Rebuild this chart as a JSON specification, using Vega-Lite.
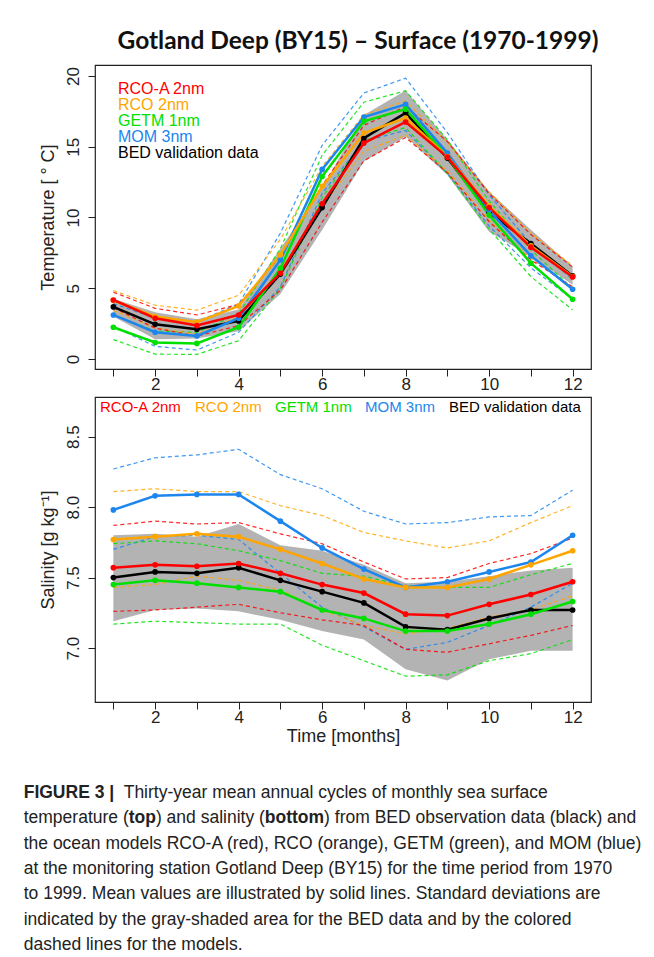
{
  "$schema": "https://vega.github.io/schema/vega-lite/v6.json",
  "background": "white",
  "padding": {"left": 23, "top": 28, "right": 0, "bottom": 0},
  "title": {"text": "Gotland Deep (BY15) – Surface (1970-1999)", "font": "Lato", "fontSize": 24.5, "fontWeight": "bold", "color": "#111111", "anchor": "middle", "offset": 10, "dx": 25},
  "spacing": 3,
  "resolve": {"legend": {"color": "independent"}},
  "datasets": {
    "temp": [
      {"model": "BED validation data", "month": 1, "mean": 3.68, "lo": 3.0, "hi": 4.25},
      {"model": "BED validation data", "month": 2, "mean": 2.45, "lo": 1.4, "hi": 3.3},
      {"model": "BED validation data", "month": 3, "mean": 2.1, "lo": 1.45, "hi": 2.8},
      {"model": "BED validation data", "month": 4, "mean": 2.69, "lo": 1.95, "hi": 3.5},
      {"model": "BED validation data", "month": 5, "mean": 6.0, "lo": 4.6, "hi": 7.8},
      {"model": "BED validation data", "month": 6, "mean": 10.7, "lo": 9.12, "hi": 12.1},
      {"model": "BED validation data", "month": 7, "mean": 15.6, "lo": 13.95, "hi": 17.25},
      {"model": "BED validation data", "month": 8, "mean": 17.4, "lo": 15.72, "hi": 18.97},
      {"model": "BED validation data", "month": 9, "mean": 14.2, "lo": 13.0, "hi": 15.5},
      {"model": "BED validation data", "month": 10, "mean": 10.35, "lo": 9.0, "hi": 11.84},
      {"model": "BED validation data", "month": 11, "mean": 8.16, "lo": 7.24, "hi": 9.13},
      {"model": "BED validation data", "month": 12, "mean": 5.87, "lo": 5.24, "hi": 6.53},
      {"model": "MOM 3nm", "month": 1, "mean": 3.11, "lo": 2.31, "hi": 3.91},
      {"model": "MOM 3nm", "month": 2, "mean": 1.89, "lo": 0.89, "hi": 2.89},
      {"model": "MOM 3nm", "month": 3, "mean": 1.63, "lo": 0.63, "hi": 2.63},
      {"model": "MOM 3nm", "month": 4, "mean": 2.88, "lo": 1.88, "hi": 3.88},
      {"model": "MOM 3nm", "month": 5, "mean": 7.0, "lo": 5.1, "hi": 8.9},
      {"model": "MOM 3nm", "month": 6, "mean": 13.4, "lo": 11.7, "hi": 15.1},
      {"model": "MOM 3nm", "month": 7, "mean": 17.1, "lo": 15.4, "hi": 18.8},
      {"model": "MOM 3nm", "month": 8, "mean": 18.0, "lo": 16.15, "hi": 19.85},
      {"model": "MOM 3nm", "month": 9, "mean": 14.55, "lo": 13.1, "hi": 16.0},
      {"model": "MOM 3nm", "month": 10, "mean": 10.5, "lo": 9.4, "hi": 11.6},
      {"model": "MOM 3nm", "month": 11, "mean": 7.29, "lo": 6.44, "hi": 8.14},
      {"model": "MOM 3nm", "month": 12, "mean": 4.93, "lo": 4.23, "hi": 5.63},
      {"model": "GETM 1nm", "month": 1, "mean": 2.24, "lo": 1.37, "hi": 3.11},
      {"model": "GETM 1nm", "month": 2, "mean": 1.16, "lo": 0.34, "hi": 1.98},
      {"model": "GETM 1nm", "month": 3, "mean": 1.1, "lo": 0.32, "hi": 1.88},
      {"model": "GETM 1nm", "month": 4, "mean": 2.24, "lo": 1.29, "hi": 3.19},
      {"model": "GETM 1nm", "month": 5, "mean": 6.4, "lo": 5.0, "hi": 7.8},
      {"model": "GETM 1nm", "month": 6, "mean": 12.9, "lo": 11.4, "hi": 14.4},
      {"model": "GETM 1nm", "month": 7, "mean": 16.8, "lo": 15.45, "hi": 18.15},
      {"model": "GETM 1nm", "month": 8, "mean": 17.66, "lo": 16.36, "hi": 18.96},
      {"model": "GETM 1nm", "month": 9, "mean": 14.3, "lo": 13.1, "hi": 15.5},
      {"model": "GETM 1nm", "month": 10, "mean": 10.17, "lo": 9.17, "hi": 11.17},
      {"model": "GETM 1nm", "month": 11, "mean": 6.77, "lo": 5.82, "hi": 7.72},
      {"model": "GETM 1nm", "month": 12, "mean": 4.22, "lo": 3.47, "hi": 4.97},
      {"model": "RCO 2nm", "month": 1, "mean": 4.13, "lo": 3.43, "hi": 4.83},
      {"model": "RCO 2nm", "month": 2, "mean": 3.0, "lo": 2.2, "hi": 3.8},
      {"model": "RCO 2nm", "month": 3, "mean": 2.6, "lo": 1.75, "hi": 3.45},
      {"model": "RCO 2nm", "month": 4, "mean": 3.75, "lo": 3.0, "hi": 4.5},
      {"model": "RCO 2nm", "month": 5, "mean": 7.36, "lo": 6.26, "hi": 8.46},
      {"model": "RCO 2nm", "month": 6, "mean": 12.2, "lo": 10.8, "hi": 13.6},
      {"model": "RCO 2nm", "month": 7, "mean": 15.97, "lo": 14.67, "hi": 17.27},
      {"model": "RCO 2nm", "month": 8, "mean": 17.03, "lo": 15.83, "hi": 18.23},
      {"model": "RCO 2nm", "month": 9, "mean": 14.3, "lo": 13.3, "hi": 15.3},
      {"model": "RCO 2nm", "month": 10, "mean": 10.8, "lo": 9.8, "hi": 11.8},
      {"model": "RCO 2nm", "month": 11, "mean": 8.0, "lo": 7.1, "hi": 8.9},
      {"model": "RCO 2nm", "month": 12, "mean": 5.83, "lo": 5.08, "hi": 6.58},
      {"model": "RCO-A 2nm", "month": 1, "mean": 4.17, "lo": 3.62, "hi": 4.72},
      {"model": "RCO-A 2nm", "month": 2, "mean": 2.88, "lo": 2.18, "hi": 3.58},
      {"model": "RCO-A 2nm", "month": 3, "mean": 2.36, "lo": 1.61, "hi": 3.11},
      {"model": "RCO-A 2nm", "month": 4, "mean": 3.11, "lo": 2.36, "hi": 3.86},
      {"model": "RCO-A 2nm", "month": 5, "mean": 6.06, "lo": 4.86, "hi": 7.26},
      {"model": "RCO-A 2nm", "month": 6, "mean": 10.97, "lo": 9.67, "hi": 12.27},
      {"model": "RCO-A 2nm", "month": 7, "mean": 15.26, "lo": 14.01, "hi": 16.51},
      {"model": "RCO-A 2nm", "month": 8, "mean": 16.75, "lo": 15.65, "hi": 17.85},
      {"model": "RCO-A 2nm", "month": 9, "mean": 14.27, "lo": 13.17, "hi": 15.37},
      {"model": "RCO-A 2nm", "month": 10, "mean": 10.7, "lo": 9.7, "hi": 11.7},
      {"model": "RCO-A 2nm", "month": 11, "mean": 7.9, "lo": 7.0, "hi": 8.8},
      {"model": "RCO-A 2nm", "month": 12, "mean": 5.8, "lo": 5.1, "hi": 6.5}
    ],
    "sal": [
      {"model": "BED validation data", "month": 1, "mean": 7.50, "lo": 7.19, "hi": 7.80},
      {"model": "BED validation data", "month": 2, "mean": 7.54, "lo": 7.27, "hi": 7.81},
      {"model": "BED validation data", "month": 3, "mean": 7.53, "lo": 7.28, "hi": 7.79},
      {"model": "BED validation data", "month": 4, "mean": 7.57, "lo": 7.26, "hi": 7.88},
      {"model": "BED validation data", "month": 5, "mean": 7.48, "lo": 7.20, "hi": 7.73},
      {"model": "BED validation data", "month": 6, "mean": 7.40, "lo": 7.12, "hi": 7.69},
      {"model": "BED validation data", "month": 7, "mean": 7.32, "lo": 7.06, "hi": 7.59},
      {"model": "BED validation data", "month": 8, "mean": 7.15, "lo": 6.85, "hi": 7.46},
      {"model": "BED validation data", "month": 9, "mean": 7.13, "lo": 6.77, "hi": 7.47},
      {"model": "BED validation data", "month": 10, "mean": 7.21, "lo": 6.92, "hi": 7.51},
      {"model": "BED validation data", "month": 11, "mean": 7.27, "lo": 6.98, "hi": 7.55},
      {"model": "BED validation data", "month": 12, "mean": 7.27, "lo": 6.98, "hi": 7.57},
      {"model": "MOM 3nm", "month": 1, "mean": 7.98, "lo": 7.70, "hi": 8.27},
      {"model": "MOM 3nm", "month": 2, "mean": 8.08, "lo": 7.79, "hi": 8.35},
      {"model": "MOM 3nm", "month": 3, "mean": 8.09, "lo": 7.80, "hi": 8.37},
      {"model": "MOM 3nm", "month": 4, "mean": 8.09, "lo": 7.77, "hi": 8.41},
      {"model": "MOM 3nm", "month": 5, "mean": 7.90, "lo": 7.53, "hi": 8.23},
      {"model": "MOM 3nm", "month": 6, "mean": 7.71, "lo": 7.29, "hi": 8.13},
      {"model": "MOM 3nm", "month": 7, "mean": 7.56, "lo": 7.15, "hi": 7.97},
      {"model": "MOM 3nm", "month": 8, "mean": 7.43, "lo": 6.99, "hi": 7.88},
      {"model": "MOM 3nm", "month": 9, "mean": 7.47, "lo": 7.04, "hi": 7.89},
      {"model": "MOM 3nm", "month": 10, "mean": 7.54, "lo": 7.16, "hi": 7.93},
      {"model": "MOM 3nm", "month": 11, "mean": 7.61, "lo": 7.29, "hi": 7.94},
      {"model": "MOM 3nm", "month": 12, "mean": 7.80, "lo": 7.46, "hi": 8.12},
      {"model": "GETM 1nm", "month": 1, "mean": 7.45, "lo": 7.17, "hi": 7.74},
      {"model": "GETM 1nm", "month": 2, "mean": 7.48, "lo": 7.19, "hi": 7.76},
      {"model": "GETM 1nm", "month": 3, "mean": 7.46, "lo": 7.18, "hi": 7.74},
      {"model": "GETM 1nm", "month": 4, "mean": 7.43, "lo": 7.17, "hi": 7.69},
      {"model": "GETM 1nm", "month": 5, "mean": 7.40, "lo": 7.17, "hi": 7.62},
      {"model": "GETM 1nm", "month": 6, "mean": 7.27, "lo": 7.02, "hi": 7.53},
      {"model": "GETM 1nm", "month": 7, "mean": 7.21, "lo": 6.91, "hi": 7.51},
      {"model": "GETM 1nm", "month": 8, "mean": 7.12, "lo": 6.80, "hi": 7.44},
      {"model": "GETM 1nm", "month": 9, "mean": 7.12, "lo": 6.81, "hi": 7.43},
      {"model": "GETM 1nm", "month": 10, "mean": 7.17, "lo": 6.91, "hi": 7.43},
      {"model": "GETM 1nm", "month": 11, "mean": 7.24, "lo": 6.96, "hi": 7.52},
      {"model": "GETM 1nm", "month": 12, "mean": 7.33, "lo": 7.06, "hi": 7.60},
      {"model": "RCO 2nm", "month": 1, "mean": 7.77, "lo": 7.43, "hi": 8.11},
      {"model": "RCO 2nm", "month": 2, "mean": 7.79, "lo": 7.45, "hi": 8.13},
      {"model": "RCO 2nm", "month": 3, "mean": 7.81, "lo": 7.51, "hi": 8.11},
      {"model": "RCO 2nm", "month": 4, "mean": 7.79, "lo": 7.48, "hi": 8.11},
      {"model": "RCO 2nm", "month": 5, "mean": 7.70, "lo": 7.41, "hi": 8.01},
      {"model": "RCO 2nm", "month": 6, "mean": 7.60, "lo": 7.27, "hi": 7.94},
      {"model": "RCO 2nm", "month": 7, "mean": 7.49, "lo": 7.16, "hi": 7.82},
      {"model": "RCO 2nm", "month": 8, "mean": 7.43, "lo": 7.10, "hi": 7.76},
      {"model": "RCO 2nm", "month": 9, "mean": 7.43, "lo": 7.14, "hi": 7.71},
      {"model": "RCO 2nm", "month": 10, "mean": 7.49, "lo": 7.22, "hi": 7.76},
      {"model": "RCO 2nm", "month": 11, "mean": 7.59, "lo": 7.27, "hi": 7.89},
      {"model": "RCO 2nm", "month": 12, "mean": 7.69, "lo": 7.37, "hi": 8.01},
      {"model": "RCO-A 2nm", "month": 1, "mean": 7.57, "lo": 7.26, "hi": 7.87},
      {"model": "RCO-A 2nm", "month": 2, "mean": 7.59, "lo": 7.27, "hi": 7.90},
      {"model": "RCO-A 2nm", "month": 3, "mean": 7.58, "lo": 7.29, "hi": 7.88},
      {"model": "RCO-A 2nm", "month": 4, "mean": 7.60, "lo": 7.31, "hi": 7.89},
      {"model": "RCO-A 2nm", "month": 5, "mean": 7.53, "lo": 7.25, "hi": 7.81},
      {"model": "RCO-A 2nm", "month": 6, "mean": 7.45, "lo": 7.20, "hi": 7.74},
      {"model": "RCO-A 2nm", "month": 7, "mean": 7.39, "lo": 7.16, "hi": 7.61},
      {"model": "RCO-A 2nm", "month": 8, "mean": 7.24, "lo": 6.99, "hi": 7.49},
      {"model": "RCO-A 2nm", "month": 9, "mean": 7.23, "lo": 6.97, "hi": 7.50},
      {"model": "RCO-A 2nm", "month": 10, "mean": 7.31, "lo": 7.03, "hi": 7.60},
      {"model": "RCO-A 2nm", "month": 11, "mean": 7.38, "lo": 7.09, "hi": 7.67},
      {"model": "RCO-A 2nm", "month": 12, "mean": 7.47, "lo": 7.16, "hi": 7.78}
    ],
    "caption": [
      {"line": 1, "part": "a", "text": "FIGURE 3 |"},
      {"line": 1, "part": "b", "text": "Thirty-year mean annual cycles of monthly sea surface"},
      {"line": 2, "part": "c", "text": "temperature ("},
      {"line": 2, "part": "d", "text": "top"},
      {"line": 2, "part": "e", "text": ") and salinity ("},
      {"line": 2, "part": "f", "text": "bottom"},
      {"line": 2, "part": "g", "text": ") from BED observation data (black) and"},
      {"line": 3, "part": "c", "text": "the ocean models RCO-A (red), RCO (orange), GETM (green), and MOM (blue)"},
      {"line": 4, "part": "c", "text": "at the monitoring station Gotland Deep (BY15) for the time period from 1970"},
      {"line": 5, "part": "c", "text": "to 1999. Mean values are illustrated by solid lines. Standard deviations are"},
      {"line": 6, "part": "c", "text": "indicated by the gray-shaded area for the BED data and by the colored"},
      {"line": 7, "part": "c", "text": "dashed lines for the models."}
    ]
  },
  "vconcat": [
    {
      "width": 496,
      "height": 304,
      "data": {"name": "temp"},
      "encoding": {
        "x": {"field": "month", "type": "quantitative", "scale": {"domain": [0.56, 12.44], "nice": false, "zero": false},
              "axis": {"values": [1,2,3,4,5,6,7,8,9,10,11,12], "labelExpr": "datum.value % 2 === 0 ? datum.label : ''", "title": null, "labelPadding": 0}},
        "color": {"field": "model", "type": "nominal",
          "scale": {"domain": ["RCO-A 2nm", "RCO 2nm", "GETM 1nm", "MOM 3nm", "BED validation data"], "range": ["#ff0000", "#ffa500", "#00e000", "#1c86ee", "#000000"]},
          "legend": {"orient": "none", "legendX": 23, "legendY": 16, "direction": "vertical", "title": null, "symbolSize": 0, "symbolOpacity": 0, "symbolStrokeWidth": 0, "labelOffset": -16, "labelFontSize": 16, "rowPadding": -1, "labelLimit": 400,
            "encode": {"labels": {"update": {"fill": {"signal": "datum.value === 'RCO-A 2nm' ? '#ff0000' : datum.value === 'RCO 2nm' ? '#ffa500' : datum.value === 'GETM 1nm' ? '#00e000' : datum.value === 'MOM 3nm' ? '#1c86ee' : '#000000'"}}}}}}
      },
      "layer": [
        {
          "transform": [{"filter": "datum.model === 'BED validation data'"}],
          "mark": {"type": "area", "opacity": 1},
          "encoding": {
            "y": {"field": "lo", "type": "quantitative", "title": "Temperature [ ° C]", "scale": {"domain": [-0.71, 20.78], "nice": false, "zero": false},
                  "axis": {"values": [0, 5, 10, 15, 20], "labelAngle": -90, "labelPadding": 6, "titlePadding": 7}},
            "y2": {"field": "hi"},
            "color": {"value": "#b3b3b3"}
          }
        },
        {
          "transform": [{"filter": "datum.model !== 'BED validation data'"}, {"fold": ["lo", "hi"], "as": ["bound", "val"]}],
          "mark": {"type": "line", "strokeDash": [4, 3], "strokeWidth": 1.2, "opacity": 0.85},
          "encoding": {
            "y": {"field": "val", "type": "quantitative", "title": "Temperature [ ° C]"},
            "detail": {"field": "bound"}
          }
        },
        {
          "mark": {"type": "line", "strokeWidth": 2.5, "point": {"filled": true, "size": 32, "opacity": 1}},
          "encoding": {
            "y": {"field": "mean", "type": "quantitative", "title": "Temperature [ ° C]"}
          }
        }
      ]
    },
    {
      "width": 496,
      "height": 305,
      "data": {"name": "sal"},
      "encoding": {
        "x": {"field": "month", "type": "quantitative", "scale": {"domain": [0.56, 12.44], "nice": false, "zero": false},
              "axis": {"values": [1,2,3,4,5,6,7,8,9,10,11,12], "labelExpr": "datum.value % 2 === 0 ? datum.label : ''", "title": "Time [months]", "labelPadding": 0, "titlePadding": 2}},
        "color": {"field": "model", "type": "nominal",
          "scale": {"domain": ["RCO-A 2nm", "RCO 2nm", "GETM 1nm", "MOM 3nm", "BED validation data"], "range": ["#ff0000", "#ffa500", "#00e000", "#1c86ee", "#000000"]},
          "legend": {"orient": "none", "legendX": 6, "legendY": 2, "direction": "horizontal", "columns": 5, "columnPadding": 13, "title": null, "symbolSize": 0, "symbolOpacity": 0, "symbolStrokeWidth": 0, "labelOffset": -16, "labelFontSize": 15, "labelLimit": 400,
            "encode": {"labels": {"update": {"fill": {"signal": "datum.value === 'RCO-A 2nm' ? '#ff0000' : datum.value === 'RCO 2nm' ? '#ffa500' : datum.value === 'GETM 1nm' ? '#00e000' : datum.value === 'MOM 3nm' ? '#1c86ee' : '#000000'"}}}}}}
      },
      "layer": [
        {
          "transform": [{"filter": "datum.model === 'BED validation data'"}],
          "mark": {"type": "area", "opacity": 1},
          "encoding": {
            "y": {"field": "lo", "type": "quantitative", "title": "Salinity [g kg⁻¹]", "scale": {"domain": [6.617, 8.781], "nice": false, "zero": false},
                  "axis": {"values": [7, 7.5, 8, 8.5], "format": ".1f", "labelAngle": -90, "labelPadding": 6, "titlePadding": 7}},
            "y2": {"field": "hi"},
            "color": {"value": "#b3b3b3"}
          }
        },
        {
          "transform": [{"filter": "datum.model !== 'BED validation data'"}, {"fold": ["lo", "hi"], "as": ["bound", "val"]}],
          "mark": {"type": "line", "strokeDash": [4, 3], "strokeWidth": 1.2, "opacity": 0.85},
          "encoding": {
            "y": {"field": "val", "type": "quantitative", "title": "Salinity [g kg⁻¹]"},
            "detail": {"field": "bound"}
          }
        },
        {
          "mark": {"type": "line", "strokeWidth": 2.5, "point": {"filled": true, "size": 32, "opacity": 1}},
          "encoding": {
            "y": {"field": "mean", "type": "quantitative", "title": "Salinity [g kg⁻¹]"}
          }
        }
      ]
    },
    {
      "width": 496,
      "height": 207,
      "view": {"stroke": null},
      "data": {"name": "caption"},
      "encoding": {
        "y": {"field": "line", "type": "ordinal", "axis": null, "scale": {"type": "point", "padding": 0, "range": [44, 195.8]}},
        "x": {"value": -71.3},
        "text": {"field": "text"}
      },
      "layer": [
        {"transform": [{"filter": "datum.part === 'a'"}], "mark": {"type": "text", "align": "left", "baseline": "middle", "fontSize": 17.5, "fontWeight": "bold", "color": "#222222"}},
        {"transform": [{"filter": "datum.part === 'b'"}], "mark": {"type": "text", "align": "left", "baseline": "middle", "fontSize": 17.5, "color": "#222222", "dx": 100}},
        {"transform": [{"filter": "datum.part === 'c'"}], "mark": {"type": "text", "align": "left", "baseline": "middle", "fontSize": 17.5, "color": "#222222"}},
        {"transform": [{"filter": "datum.part === 'd'"}], "mark": {"type": "text", "align": "left", "baseline": "middle", "fontSize": 17.5, "fontWeight": "bold", "color": "#222222", "dx": 105}},
        {"transform": [{"filter": "datum.part === 'e'"}], "mark": {"type": "text", "align": "left", "baseline": "middle", "fontSize": 17.5, "color": "#222222", "dx": 132.2}},
        {"transform": [{"filter": "datum.part === 'f'"}], "mark": {"type": "text", "align": "left", "baseline": "middle", "fontSize": 17.5, "fontWeight": "bold", "color": "#222222", "dx": 241.1}},
        {"transform": [{"filter": "datum.part === 'g'"}], "mark": {"type": "text", "align": "left", "baseline": "middle", "fontSize": 17.5, "color": "#222222", "dx": 300.4}}
      ]
    }
  ],
  "config": {
    "font": "Liberation Sans",
    "view": {"stroke": "#222222", "strokeWidth": 1.2},
    "axis": {"grid": false, "domain": false, "tickColor": "#222222", "tickSize": 7, "tickWidth": 1, "labelFontSize": 17, "labelColor": "#222222", "titleFontSize": 18, "titleFontWeight": "normal", "titleColor": "#222222", "labelFont": "Liberation Sans", "titleFont": "Liberation Sans"},
    "legend": {"labelFont": "Liberation Sans"}
  }
}
